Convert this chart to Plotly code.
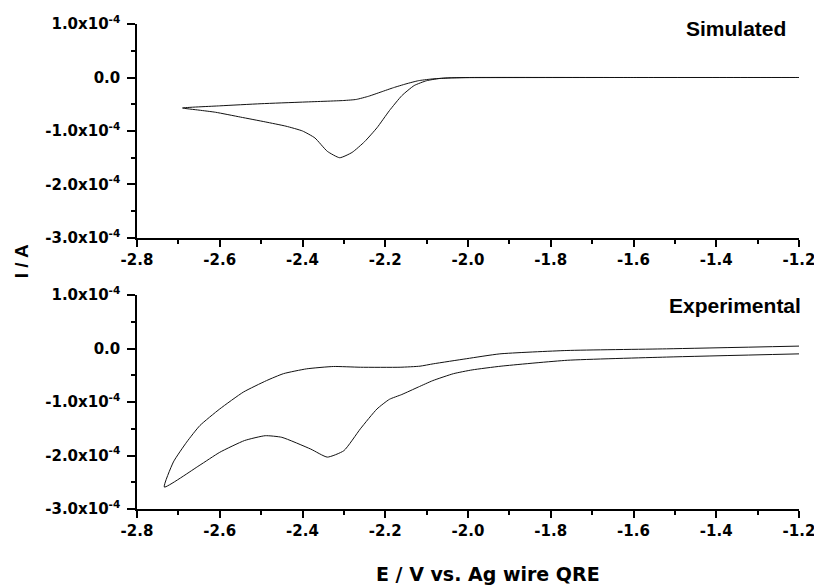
import plotly.graph_objects as go

# ---- Data (current in units of 1e-4 A) ----
sim_E_fwd = [-1.20, -1.60, -2.00, -2.04, -2.07, -2.10, -2.13, -2.16, -2.19, -2.22, -2.25,
             -2.28, -2.31, -2.34, -2.37, -2.40, -2.44, -2.49, -2.55, -2.61, -2.65, -2.69]
sim_I_fwd = [0.0, 0.0, -0.003, -0.008, -0.02, -0.06, -0.15, -0.34, -0.62, -0.94, -1.20,
             -1.40, -1.50, -1.38, -1.13, -1.00, -0.91, -0.83, -0.74, -0.65, -0.61, -0.57]
sim_E_rev = [-2.69, -2.60, -2.50, -2.40, -2.30, -2.27, -2.24, -2.21, -2.18, -2.15, -2.12,
             -2.09, -2.05, -2.00, -1.60, -1.20]
sim_I_rev = [-0.57, -0.53, -0.49, -0.46, -0.43, -0.41, -0.35, -0.27, -0.19, -0.12, -0.06,
             -0.03, -0.008, 0.0, 0.0, 0.0]

exp_E_fwd = [-1.20, -1.52, -1.76, -1.92, -1.99, -2.035, -2.085, -2.12, -2.16, -2.19, -2.22,
             -2.26, -2.30, -2.34, -2.38, -2.45, -2.49, -2.54, -2.60, -2.65, -2.734]
exp_I_fwd = [-0.10, -0.16, -0.22, -0.33, -0.40, -0.47, -0.60, -0.72, -0.86, -0.95, -1.13,
             -1.50, -1.91, -2.03, -1.88, -1.66, -1.63, -1.72, -1.94, -2.19, -2.59]
exp_E_rev = [-2.734, -2.712, -2.68, -2.648, -2.60, -2.543, -2.487, -2.446, -2.39, -2.325,
             -2.26, -2.164, -2.116, -2.084, -2.003, -1.923, -1.761, -1.52, -1.20]
exp_I_rev = [-2.59, -2.12, -1.75, -1.44, -1.13, -0.815, -0.60, -0.47, -0.38, -0.336,
             -0.35, -0.35, -0.33, -0.286, -0.19, -0.10, -0.037, -0.006, 0.045]

scale = 1e-4
x_ticks = [-2.8, -2.6, -2.4, -2.2, -2.0, -1.8, -1.6, -1.4, -1.2]
x_ticktext = ["-2.8", "-2.6", "-2.4", "-2.2", "-2.0", "-1.8", "-1.6", "-1.4", "-1.2"]
y_ticks = [1e-4, 0.0, -1e-4, -2e-4, -3e-4]
y_ticktext = ["1.0x10<sup>-4</sup>", "0.0", "-1.0x10<sup>-4</sup>",
              "-2.0x10<sup>-4</sup>", "-3.0x10<sup>-4</sup>"]

fig = go.Figure()
line = dict(color="#111111", width=1, shape="spline", smoothing=0.5)
fig.add_trace(go.Scatter(x=sim_E_fwd + sim_E_rev[1:],
                         y=[v * scale for v in sim_I_fwd + sim_I_rev[1:]],
                         mode="lines", line=line, xaxis="x", yaxis="y", showlegend=False))
fig.add_trace(go.Scatter(x=exp_E_fwd + exp_E_rev[1:],
                         y=[v * scale for v in exp_I_fwd + exp_I_rev[1:]],
                         mode="lines", line=line, xaxis="x2", yaxis="y2", showlegend=False))

tickfont = dict(family="DejaVu Sans", size=15, color="black", weight="bold")

def xa(anchor):
    return dict(range=[-2.8, -1.2], tickvals=x_ticks, ticktext=x_ticktext, ticks="outside",
                ticklen=7, tickwidth=1.5, tickcolor="black", showline=True, linecolor="black",
                linewidth=1.5, showgrid=False, zeroline=False, tickfont=tickfont, anchor=anchor,
                automargin=False, ticklabeloverflow="allow",
                minor=dict(ticks="outside", ticklen=4, tickwidth=1.5, tickcolor="black",
                           dtick=0.1, tick0=-2.8, showgrid=False))

def ya(anchor, domain):
    return dict(range=[-3e-4, 1e-4], tickvals=y_ticks, ticktext=y_ticktext, ticks="outside",
                ticklen=8, tickwidth=1.5, tickcolor="black", showline=True, linecolor="black",
                linewidth=1.5, showgrid=False, zeroline=False, tickfont=tickfont, anchor=anchor,
                domain=domain, ticklabelstandoff=4, automargin=False,
                ticklabeloverflow="allow",
                minor=dict(ticks="outside", ticklen=4, tickwidth=1.5, tickcolor="black",
                           dtick=5e-5, tick0=0, showgrid=False))

fig.update_layout(
    width=814, height=586,
    margin=dict(l=137, r=15, t=24, b=77),
    paper_bgcolor="white", plot_bgcolor="white",
    xaxis=xa("y"), yaxis=ya("x", [0.5588, 1.0]),
    xaxis2=xa("y2"), yaxis2=ya("x2", [0.0, 0.4412]),
    annotations=[
        dict(text="Simulated", x=0.983, y=0.99, xref="paper", yref="paper",
             xanchor="right", yanchor="middle", showarrow=False,
             font=dict(family="Liberation Sans", size=21, color="black", weight="bold")),
        dict(text="Experimental", x=1.006, y=0.4196, xref="paper", yref="paper",
             xanchor="right", yanchor="middle", showarrow=False,
             font=dict(family="Liberation Sans", size=21, color="black", weight="bold")),
        dict(text="E / V vs. Ag wire QRE", x=0.530, y=-0.134, xref="paper", yref="paper",
             xanchor="center", yanchor="middle", showarrow=False,
             font=dict(family="DejaVu Sans", size=19, color="black", weight="bold")),
        dict(text="I / A", x=-0.175, y=0.511, xref="paper", yref="paper", textangle=-90,
             xanchor="center", yanchor="middle", showarrow=False,
             font=dict(family="Liberation Sans", size=19, color="black", weight="bold")),
    ],
)

fig.write_html("out.html", config={"displayModeBar": False},
               post_script="document.body.style.margin='0px';")
